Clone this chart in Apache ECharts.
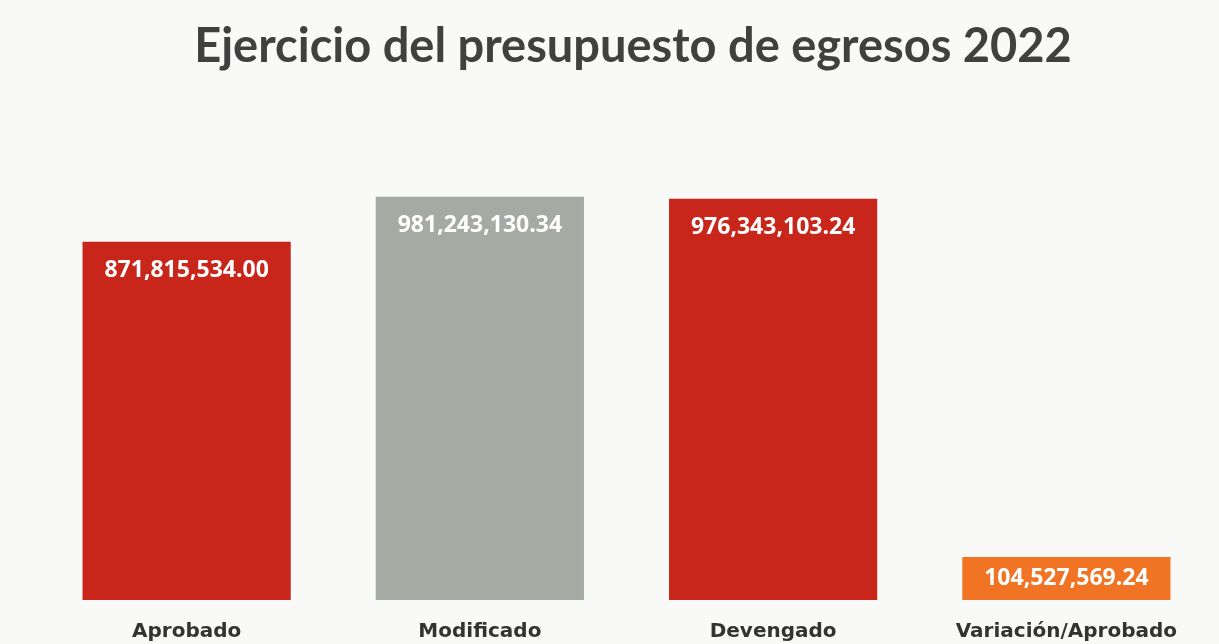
<!DOCTYPE html>
<html>
<head>
<meta charset="utf-8">
<script src="https://cdn.jsdelivr.net/npm/echarts@6/dist/echarts.min.js"></script>
<style>
  html, body { margin: 0; padding: 0; background: #f9f9f7; }
  #chart { width: 1219px; height: 644px; }
</style>
</head>
<body>
<div id="chart"></div>
<script>
const categories = ['Aprobado', 'Modificado', 'Devengado', 'Variación/Aprobado']
const values = [871815534.00, 981243130.34, 976343103.24, 104527569.24]
const barColors = ['#c8261a', '#a5aaa3', '#c8261a', '#f07424']

const chart = echarts.init(document.getElementById('chart'))

function fmt(v) {
  return v.toLocaleString('en-US', { minimumFractionDigits: 2, maximumFractionDigits: 2 })
}

chart.setOption({
  backgroundColor: '#f9f9f7',
  title: {
    text: 'Ejercicio del presupuesto de egresos 2022',
    left: 628,
    textAlign: 'center',
    top: 18,
    textStyle: {
      fontFamily: 'Lato',
      fontWeight: 'bold',
      fontSize: 47,
      color: '#404040'
    }
  },
  grid: {
    left: 40,
    right: 6,
    top: 189,
    bottom: 44
  },
  xAxis: {
    type: 'category',
    data: categories,
    axisLine: { show: false },
    axisTick: { show: false },
    axisLabel: {
      interval: 0,
      margin: 22,
      fontFamily: 'DejaVu Sans',
      fontWeight: 'bold',
      fontSize: 20,
      color: '#333333'
    }
  },
  yAxis: {
    type: 'value',
    min: 0,
    max: 1000000000,
    show: false,
    splitLine: { show: false }
  },
  series: [
    {
      type: 'bar',
      barWidth: '71%',
      data: values.map((v, i) => ({
        value: v,
        itemStyle: { color: barColors[i] },
        label: i === 3 ? { position: 'inside' } : {}
      })),
      label: {
        show: true,
        position: 'insideTop',
        distance: 17,
        formatter: (p) => fmt(p.value),
        fontFamily: 'Open Sans',
        fontWeight: 'bold',
        fontSize: 23,
        color: '#ffffff'
      }
    }
  ]
})
</script>
</body>
</html>
